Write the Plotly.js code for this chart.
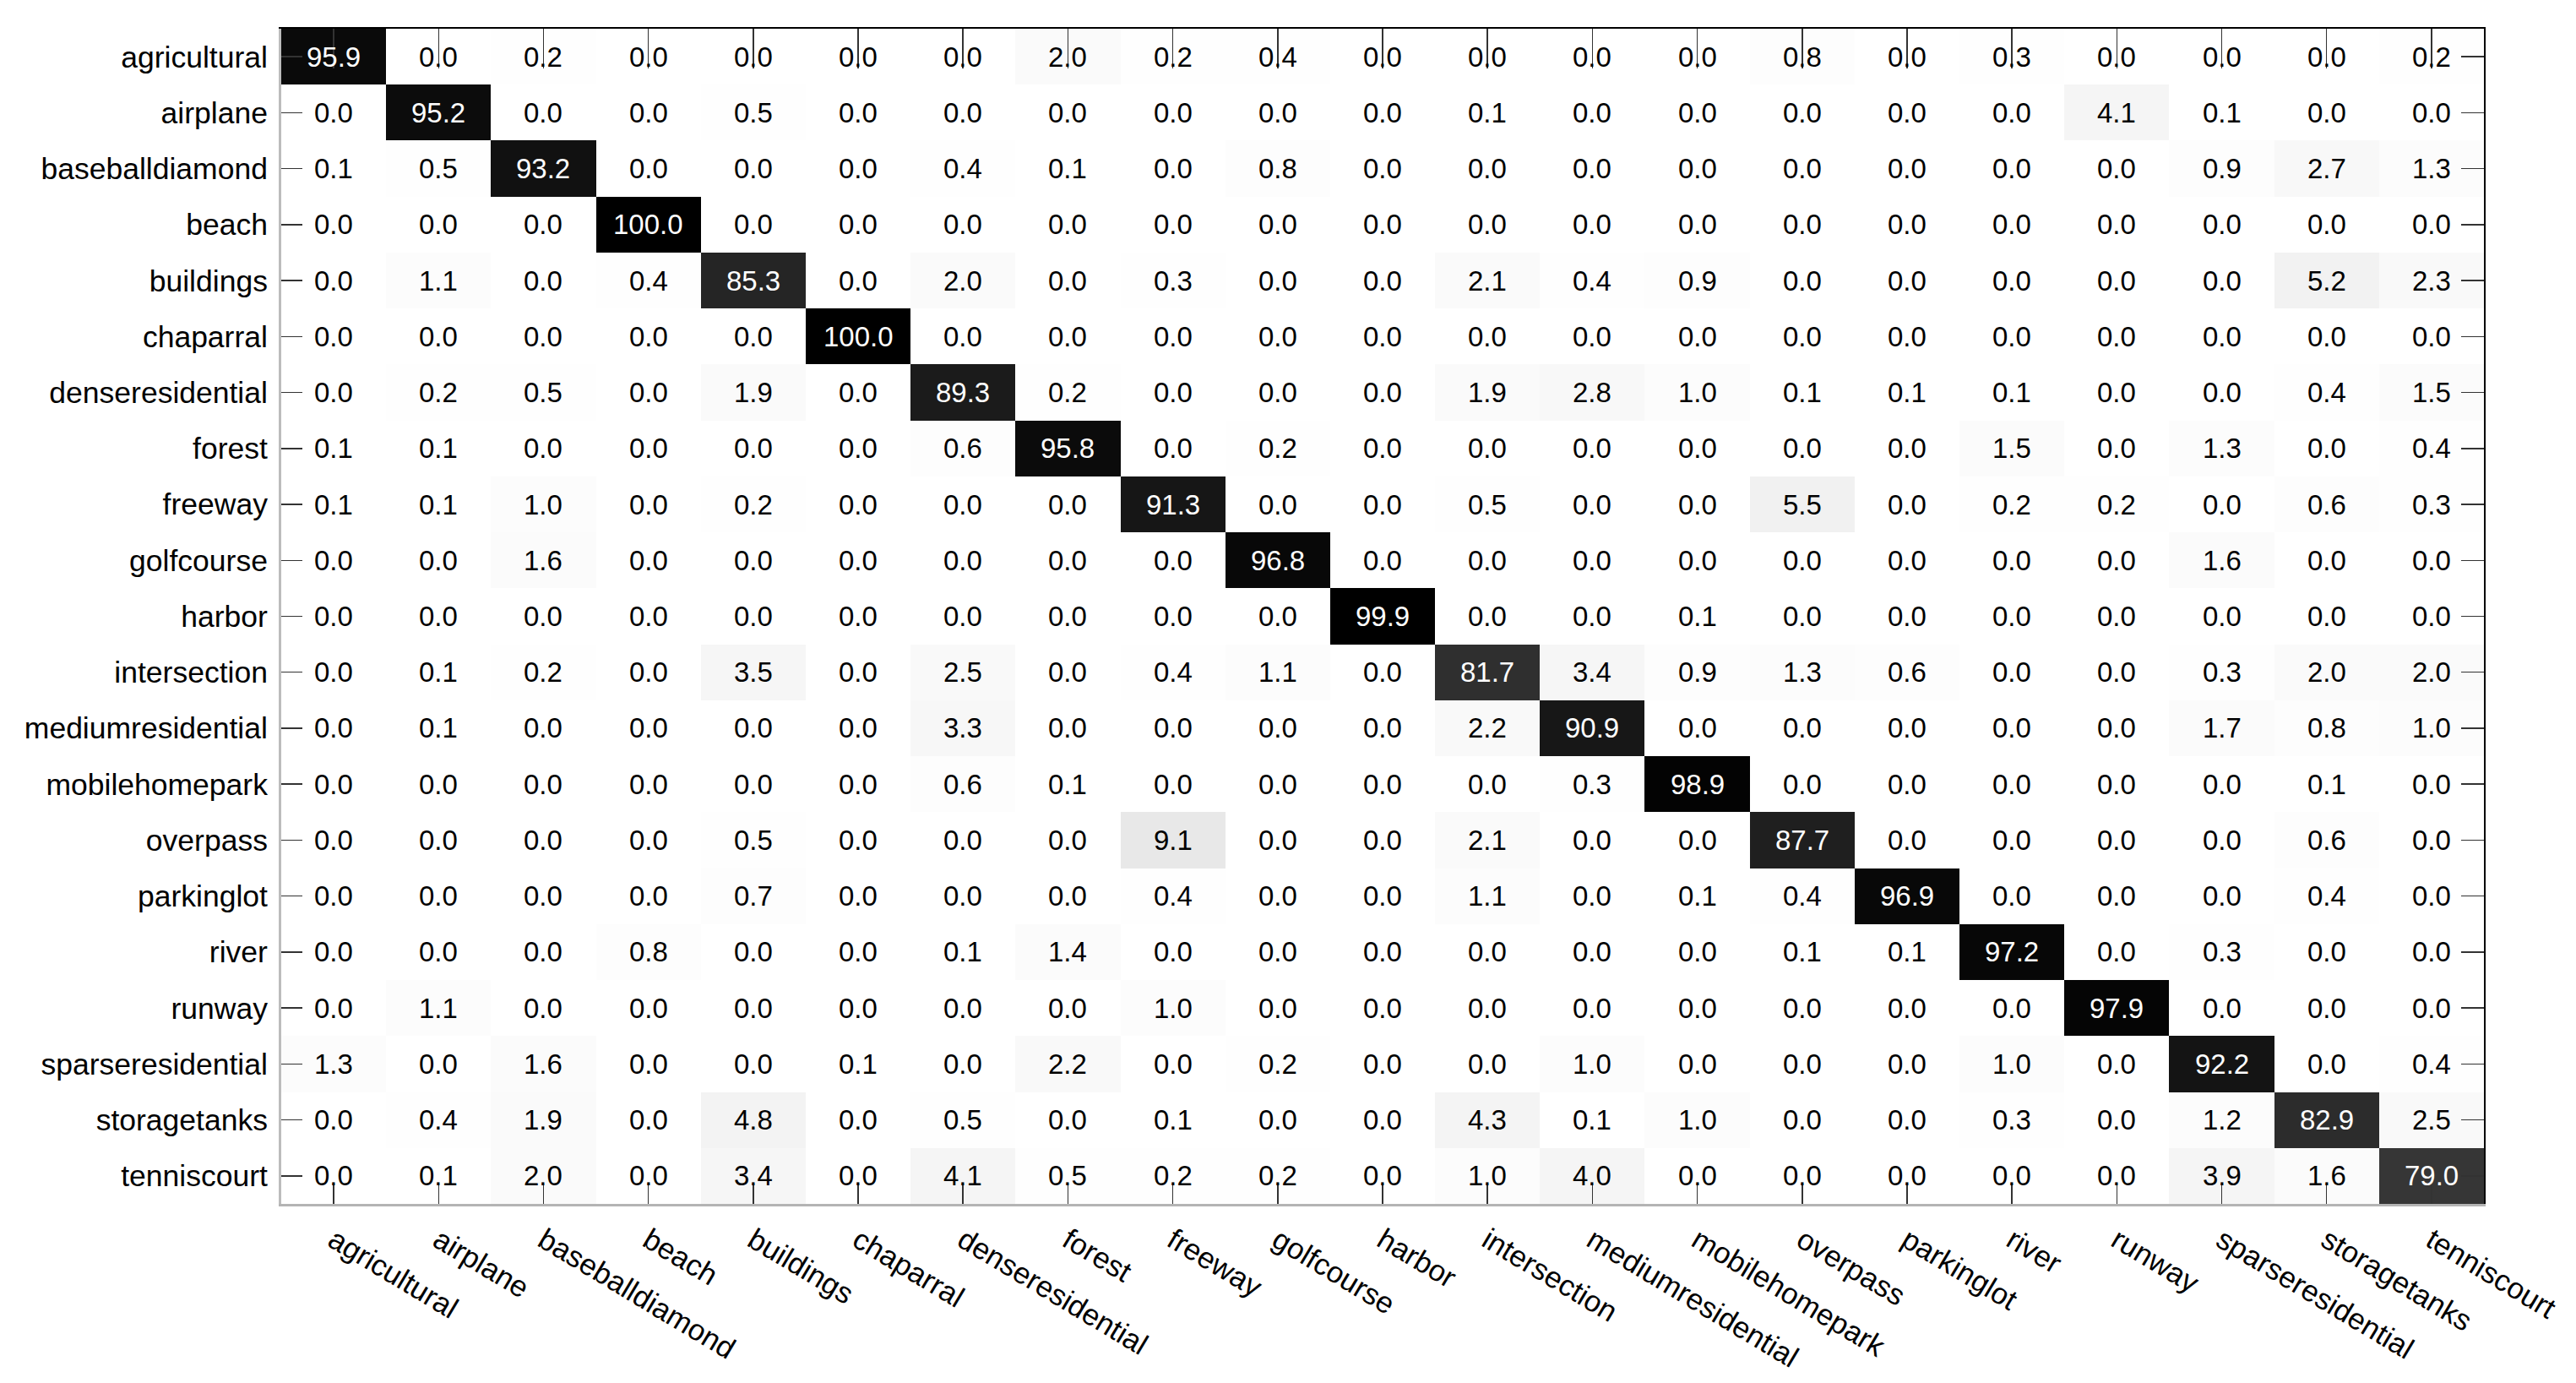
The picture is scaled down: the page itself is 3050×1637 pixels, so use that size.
<!DOCTYPE html>
<html>
<head>
<meta charset="utf-8">
<script src="https://cdn.plot.ly/plotly-3.0.1.min.js"></script>
<style>
  html, body { margin: 0; padding: 0; background: #fff; }
  #cm { width: 3050px; height: 1637px; }
</style>
</head>
<body>
<div id="cm"></div>
<script>
// class names (rows = true class, columns = predicted class)
var classes = ["agricultural", "airplane", "baseballdiamond", "beach", "buildings", "chaparral",
  "denseresidential", "forest", "freeway", "golfcourse", "harbor", "intersection",
  "mediumresidential", "mobilehomepark", "overpass", "parkinglot", "river", "runway",
  "sparseresidential", "storagetanks", "tenniscourt"];

// confusion matrix, percent, one row per true class
var agricultural      = [95.9, 0.0, 0.2, 0.0, 0.0, 0.0, 0.0, 2.0, 0.2, 0.4, 0.0, 0.0, 0.0, 0.0, 0.8, 0.0, 0.3, 0.0, 0.0, 0.0, 0.2];
var airplane          = [0.0, 95.2, 0.0, 0.0, 0.5, 0.0, 0.0, 0.0, 0.0, 0.0, 0.0, 0.1, 0.0, 0.0, 0.0, 0.0, 0.0, 4.1, 0.1, 0.0, 0.0];
var baseballdiamond   = [0.1, 0.5, 93.2, 0.0, 0.0, 0.0, 0.4, 0.1, 0.0, 0.8, 0.0, 0.0, 0.0, 0.0, 0.0, 0.0, 0.0, 0.0, 0.9, 2.7, 1.3];
var beach             = [0.0, 0.0, 0.0, 100.0, 0.0, 0.0, 0.0, 0.0, 0.0, 0.0, 0.0, 0.0, 0.0, 0.0, 0.0, 0.0, 0.0, 0.0, 0.0, 0.0, 0.0];
var buildings         = [0.0, 1.1, 0.0, 0.4, 85.3, 0.0, 2.0, 0.0, 0.3, 0.0, 0.0, 2.1, 0.4, 0.9, 0.0, 0.0, 0.0, 0.0, 0.0, 5.2, 2.3];
var chaparral         = [0.0, 0.0, 0.0, 0.0, 0.0, 100.0, 0.0, 0.0, 0.0, 0.0, 0.0, 0.0, 0.0, 0.0, 0.0, 0.0, 0.0, 0.0, 0.0, 0.0, 0.0];
var denseresidential  = [0.0, 0.2, 0.5, 0.0, 1.9, 0.0, 89.3, 0.2, 0.0, 0.0, 0.0, 1.9, 2.8, 1.0, 0.1, 0.1, 0.1, 0.0, 0.0, 0.4, 1.5];
var forest            = [0.1, 0.1, 0.0, 0.0, 0.0, 0.0, 0.6, 95.8, 0.0, 0.2, 0.0, 0.0, 0.0, 0.0, 0.0, 0.0, 1.5, 0.0, 1.3, 0.0, 0.4];
var freeway           = [0.1, 0.1, 1.0, 0.0, 0.2, 0.0, 0.0, 0.0, 91.3, 0.0, 0.0, 0.5, 0.0, 0.0, 5.5, 0.0, 0.2, 0.2, 0.0, 0.6, 0.3];
var golfcourse        = [0.0, 0.0, 1.6, 0.0, 0.0, 0.0, 0.0, 0.0, 0.0, 96.8, 0.0, 0.0, 0.0, 0.0, 0.0, 0.0, 0.0, 0.0, 1.6, 0.0, 0.0];
var harbor            = [0.0, 0.0, 0.0, 0.0, 0.0, 0.0, 0.0, 0.0, 0.0, 0.0, 99.9, 0.0, 0.0, 0.1, 0.0, 0.0, 0.0, 0.0, 0.0, 0.0, 0.0];
var intersection      = [0.0, 0.1, 0.2, 0.0, 3.5, 0.0, 2.5, 0.0, 0.4, 1.1, 0.0, 81.7, 3.4, 0.9, 1.3, 0.6, 0.0, 0.0, 0.3, 2.0, 2.0];
var mediumresidential = [0.0, 0.1, 0.0, 0.0, 0.0, 0.0, 3.3, 0.0, 0.0, 0.0, 0.0, 2.2, 90.9, 0.0, 0.0, 0.0, 0.0, 0.0, 1.7, 0.8, 1.0];
var mobilehomepark    = [0.0, 0.0, 0.0, 0.0, 0.0, 0.0, 0.6, 0.1, 0.0, 0.0, 0.0, 0.0, 0.3, 98.9, 0.0, 0.0, 0.0, 0.0, 0.0, 0.1, 0.0];
var overpass          = [0.0, 0.0, 0.0, 0.0, 0.5, 0.0, 0.0, 0.0, 9.1, 0.0, 0.0, 2.1, 0.0, 0.0, 87.7, 0.0, 0.0, 0.0, 0.0, 0.6, 0.0];
var parkinglot        = [0.0, 0.0, 0.0, 0.0, 0.7, 0.0, 0.0, 0.0, 0.4, 0.0, 0.0, 1.1, 0.0, 0.1, 0.4, 96.9, 0.0, 0.0, 0.0, 0.4, 0.0];
var river             = [0.0, 0.0, 0.0, 0.8, 0.0, 0.0, 0.1, 1.4, 0.0, 0.0, 0.0, 0.0, 0.0, 0.0, 0.1, 0.1, 97.2, 0.0, 0.3, 0.0, 0.0];
var runway            = [0.0, 1.1, 0.0, 0.0, 0.0, 0.0, 0.0, 0.0, 1.0, 0.0, 0.0, 0.0, 0.0, 0.0, 0.0, 0.0, 0.0, 97.9, 0.0, 0.0, 0.0];
var sparseresidential = [1.3, 0.0, 1.6, 0.0, 0.0, 0.1, 0.0, 2.2, 0.0, 0.2, 0.0, 0.0, 1.0, 0.0, 0.0, 0.0, 1.0, 0.0, 92.2, 0.0, 0.4];
var storagetanks      = [0.0, 0.4, 1.9, 0.0, 4.8, 0.0, 0.5, 0.0, 0.1, 0.0, 0.0, 4.3, 0.1, 1.0, 0.0, 0.0, 0.3, 0.0, 1.2, 82.9, 2.5];
var tenniscourt       = [0.0, 0.1, 2.0, 0.0, 3.4, 0.0, 4.1, 0.5, 0.2, 0.2, 0.0, 1.0, 4.0, 0.0, 0.0, 0.0, 0.0, 0.0, 3.9, 1.6, 79.0];

var matrix = [agricultural, airplane, baseballdiamond, beach, buildings, chaparral, denseresidential,
  forest, freeway, golfcourse, harbor, intersection, mediumresidential, mobilehomepark, overpass,
  parkinglot, river, runway, sparseresidential, storagetanks, tenniscourt];

var idx = classes.map((c, i) => i);
var fontFam = "Liberation Sans, Arial, sans-serif";

var heat = {
  type: "heatmap",
  x: classes,
  y: classes,
  z: matrix,
  zmin: 0,
  zmax: 100,
  colorscale: [[0, "#ffffff"], [1, "#000000"]],
  showscale: false,
  hoverinfo: "skip"
};

// empty trace so the top / right frame axes get their own subplot
var frame = {
  type: "scatter",
  x: [],
  y: [],
  xaxis: "x2",
  yaxis: "y2",
  hoverinfo: "skip",
  showlegend: false
};

// cell labels, white on the dark cells
var notes = [];
matrix.forEach((row, i) => {
  row.forEach((v, j) => {
    notes.push({
      x: classes[j],
      y: classes[i],
      text: v.toFixed(1),
      showarrow: false,
      font: {family: fontFam, size: 33, color: v > 50 ? "#ffffff" : "#000000"}
    });
  });
});

var layout = {
  width: 3050,
  height: 1637,
  margin: {l: 333, r: 109, t: 34, b: 212},
  paper_bgcolor: "#ffffff",
  plot_bgcolor: "#ffffff",
  showlegend: false,
  font: {family: fontFam, color: "#000"},
  xaxis: {
    type: "category",
    ticks: "inside",
    ticklen: 22,
    tickwidth: 1.5,
    tickcolor: "#333",
    tickangle: 31,
    tickfont: {family: fontFam, size: 35, color: "#000"},
    ticklabelstandoff: 6,
    showline: true,
    linecolor: "#b4b4b4",
    linewidth: 3,
    showgrid: false,
    zeroline: false
  },
  yaxis: {
    type: "category",
    autorange: "reversed",
    ticks: "inside",
    ticklen: 25,
    tickwidth: 1.5,
    tickcolor: "#333",
    tickfont: {family: fontFam, size: 35.5, color: "#000"},
    ticklabelstandoff: 6,
    showline: true,
    linecolor: "#bcbcbc",
    linewidth: 3,
    showgrid: false,
    zeroline: false
  },
  xaxis2: {
    overlaying: "x",
    anchor: "y2",
    side: "top",
    range: [-0.5, classes.length - 0.5],
    tickmode: "array",
    tickvals: idx,
    showticklabels: false,
    ticks: "inside",
    ticklen: 47,
    tickwidth: 1.5,
    tickcolor: "#333",
    showline: true,
    linecolor: "#000",
    linewidth: 2,
    showgrid: false,
    zeroline: false
  },
  yaxis2: {
    overlaying: "y",
    anchor: "x2",
    side: "right",
    range: [classes.length - 0.5, -0.5],
    tickmode: "array",
    tickvals: idx,
    showticklabels: false,
    ticks: "inside",
    ticklen: 27,
    tickwidth: 1.5,
    tickcolor: "#333",
    showline: true,
    linecolor: "#000",
    linewidth: 2,
    showgrid: false,
    zeroline: false
  },
  annotations: notes
};

Plotly.newPlot("cm", [heat, frame], layout, {staticPlot: true});
</script>
</body>
</html>
